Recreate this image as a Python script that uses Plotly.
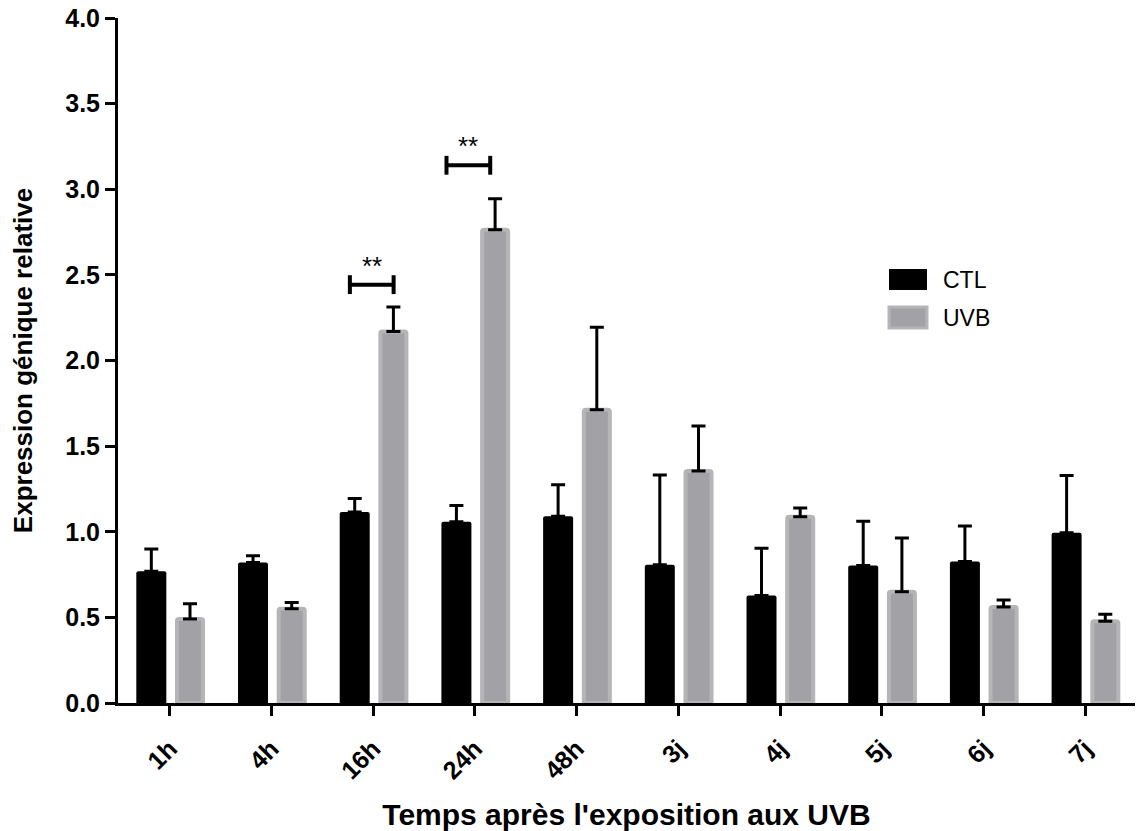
import plotly.graph_objects as go

categories = ["1h", "4h", "16h", "24h", "48h", "3j", "4j", "5j", "6j", "7j"]
ctl_mean = [0.77, 0.82, 1.115, 1.058, 1.09, 0.808, 0.628, 0.803, 0.826, 0.994]
ctl_top = [0.90, 0.86, 1.194, 1.153, 1.274, 1.332, 0.904, 1.061, 1.034, 1.328]
uvb_mean = [0.49, 0.55, 2.17, 2.764, 1.713, 1.355, 1.087, 0.649, 0.561, 0.478]
uvb_top = [0.58, 0.587, 2.313, 2.945, 2.194, 1.618, 1.139, 0.964, 0.602, 0.518]
y_ticks = [0.0, 0.5, 1.0, 1.5, 2.0, 2.5, 3.0, 3.5, 4.0]

# significance brackets (category index span, height)
sig_x0 = [1.77, 2.72]
sig_x1 = [2.20, 3.15]
sig_y = [2.443, 3.14]
sig_label = ["**", "**"]

FONT = "Liberation Sans, Arial, sans-serif"

# pixel layout
W, H = 1139, 831
L, R, T, B = 118, 4, 18, 128
pw = W - L - R
ph = H - T - B

fig = go.Figure()

ctl_err = [t - m for t, m in zip(ctl_top, ctl_mean)]
uvb_err = [t - m for t, m in zip(uvb_top, uvb_mean)]
zeros = [0] * len(categories)

fig.add_trace(go.Bar(
    name="CTL", x=categories, y=ctl_mean,
    width=0.295, offset=-0.33,
    marker=dict(color="#000000", line=dict(width=0)),
    error_y=dict(type="data", symmetric=False, array=ctl_err, arrayminus=zeros,
                 color="#000000", thickness=3, width=7),
    showlegend=False,
))
fig.add_trace(go.Bar(
    name="UVB", x=categories, y=uvb_mean,
    width=0.256, offset=0.07,
    marker=dict(color="#a2a1a6", line=dict(width=4, color="#b5b5b7")),
    error_y=dict(type="data", symmetric=False, array=uvb_err, arrayminus=zeros,
                 color="#000000", thickness=3, width=7),
    showlegend=False,
))

shapes = []
annotations = []
for x0, x1, y, lab in zip(sig_x0, sig_x1, sig_y, sig_label):
    shapes.append(dict(type="line", xref="x", yref="y", x0=x0, x1=x1, y0=y, y1=y,
                       line=dict(color="black", width=4)))
    for xx in (x0, x1):
        shapes.append(dict(type="line", xref="x", yref="y", x0=xx, x1=xx,
                           y0=y - 0.055, y1=y + 0.055,
                           line=dict(color="black", width=4)))
    annotations.append(dict(x=(x0 + x1) / 2, y=y, xref="x", yref="y", text=lab,
                            showarrow=False, yanchor="bottom", yshift=2,
                            font=dict(family=FONT, size=26, color="black")))

# manual legend (pixel positions -> paper)
def px(x):
    return (x - L) / pw

def py(y):
    return 1 - (y - T) / ph

legend_items = [("CTL", "#000000", "#000000", 268, 291), ("UVB", "#a2a1a6", "#b5b5b7", 306, 329)]
for name, fill, edge, y0, y1 in legend_items:
    shapes.append(dict(type="rect", xref="paper", yref="paper",
                       x0=px(889), x1=px(927), y0=py(y1 - 1), y1=py(y0 + 1),
                       fillcolor=fill, line=dict(color=edge, width=3 if name == "UVB" else 0)))
    annotations.append(dict(x=px(941), y=py((y0 + y1) / 2), xref="paper", yref="paper",
                            text=name, showarrow=False, xanchor="left", yanchor="middle",
                            font=dict(family=FONT, size=23, color="black")))

fig.update_layout(
    width=W, height=H,
    margin=dict(l=L, r=R, t=T, b=B, autoexpand=False),
    plot_bgcolor="white", paper_bgcolor="white",
    barcornerradius=2,
    font=dict(family=FONT, color="black"),
    shapes=shapes, annotations=annotations,
    xaxis=dict(
        type="category", range=[-0.51, 9.49],
        showline=True, linecolor="black", linewidth=3,
        ticks="outside", ticklen=10, tickwidth=3, tickcolor="black",
        tickangle=-45, ticklabelstandoff=8,
        tickfont=dict(family=FONT, size=25, weight="bold", color="black"),
        showgrid=False, zeroline=False, automargin=False,
        title=dict(text="Temps après l'exposition aux UVB", standoff=22,
                   font=dict(family=FONT, size=30, weight="bold", color="black")),
    ),
    yaxis=dict(
        range=[0, 4], tickvals=y_ticks, tickformat=".1f",
        showline=True, linecolor="black", linewidth=3,
        ticks="outside", ticklen=10, tickwidth=3, tickcolor="black",
        tickfont=dict(family=FONT, size=25, weight="bold", color="black"),
        showgrid=False, zeroline=False, automargin=False,
        title=dict(text="Expression génique relative", standoff=26,
                   font=dict(family=FONT, size=26, weight="bold", color="black")),
    ),
)

fig.write_html("out.html", config={"displayModeBar": False},
               post_script="document.body.style.margin='0px';document.body.style.overflow='hidden';")
